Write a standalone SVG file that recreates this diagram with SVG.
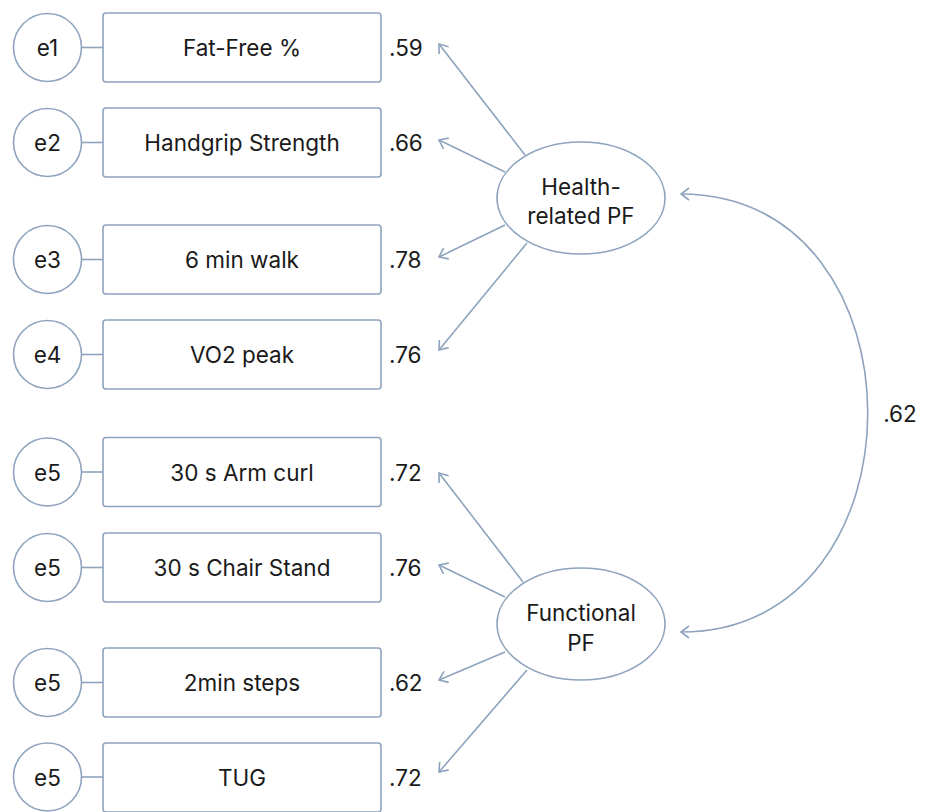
<svg xmlns="http://www.w3.org/2000/svg" width="933" height="812" viewBox="0 0 933 812">
<style>
.s{fill:#fff;stroke:#8ea3bd;stroke-width:1.6}
.c{fill:none;stroke:#8ea3bd;stroke-width:1.6}
text{font-family:Inter,"Noto Sans","Liberation Sans",sans-serif;font-size:22.5px;fill:#1a1a1a;dominant-baseline:central}
.m{text-anchor:middle}
</style>
<defs>
<marker id="ah" viewBox="-12 -8 14 16" markerWidth="14" markerHeight="16" refX="0" refY="0" orient="auto-start-reverse" markerUnits="userSpaceOnUse">
<path d="M-8,-6 L0,0 L-8,6" fill="none" stroke="#8ea3bd" stroke-width="1.6"/>
</marker>
</defs>
<rect width="933" height="812" fill="#fff"/>
<g id="connectors">
<line class="c" x1="82" y1="47.5" x2="103" y2="47.5"/>
<line class="c" x1="82" y1="142.5" x2="103" y2="142.5"/>
<line class="c" x1="82" y1="259.5" x2="103" y2="259.5"/>
<line class="c" x1="82" y1="354.5" x2="103" y2="354.5"/>
<line class="c" x1="82" y1="472" x2="103" y2="472"/>
<line class="c" x1="82" y1="567.5" x2="103" y2="567.5"/>
<line class="c" x1="82" y1="682.5" x2="103" y2="682.5"/>
<line class="c" x1="82" y1="777" x2="103" y2="777"/>
<line class="c" x1="525" y1="155" x2="439" y2="44" marker-end="url(#ah)"/>
<line class="c" x1="505" y1="172" x2="439" y2="140" marker-end="url(#ah)"/>
<line class="c" x1="505" y1="225" x2="439" y2="257" marker-end="url(#ah)"/>
<line class="c" x1="527" y1="243" x2="439" y2="350" marker-end="url(#ah)"/>
<line class="c" x1="523" y1="582" x2="439" y2="473" marker-end="url(#ah)"/>
<line class="c" x1="505" y1="597" x2="439" y2="565" marker-end="url(#ah)"/>
<line class="c" x1="505" y1="652" x2="439" y2="680" marker-end="url(#ah)"/>
<line class="c" x1="527" y1="670" x2="439" y2="772" marker-end="url(#ah)"/>
<path class="c" d="M681,194 C930,194 930,632 681,632" marker-start="url(#ah)" marker-end="url(#ah)"/>
<text x="900" y="413" class="m">.62</text>
</g>
<g id="e1"><circle class="s" cx="47.5" cy="47.5" r="34"/><text x="47.5" y="47.5" class="m">e1</text></g>
<g id="e2"><circle class="s" cx="47.5" cy="142.5" r="34"/><text x="47.5" y="142.5" class="m">e2</text></g>
<g id="e3"><circle class="s" cx="47.5" cy="259.5" r="34"/><text x="47.5" y="259.5" class="m">e3</text></g>
<g id="e4"><circle class="s" cx="47.5" cy="354.5" r="34"/><text x="47.5" y="354.5" class="m">e4</text></g>
<g id="e5a"><circle class="s" cx="47.5" cy="472" r="34"/><text x="47.5" y="472" class="m">e5</text></g>
<g id="e5b"><circle class="s" cx="47.5" cy="567.5" r="34"/><text x="47.5" y="567.5" class="m">e5</text></g>
<g id="e5c"><circle class="s" cx="47.5" cy="682.5" r="34"/><text x="47.5" y="682.5" class="m">e5</text></g>
<g id="e5d"><circle class="s" cx="47.5" cy="777" r="34"/><text x="47.5" y="777" class="m">e5</text></g>
<g id="fatfree"><rect class="s" x="103" y="13" width="278" height="69" rx="3"/><text x="242" y="47.5" class="m">Fat-Free %</text><text x="389" y="47.5">.59</text></g>
<g id="handgrip"><rect class="s" x="103" y="108" width="278" height="69" rx="3"/><text x="242" y="142.5" class="m">Handgrip Strength</text><text x="389" y="142.5">.66</text></g>
<g id="walk"><rect class="s" x="103" y="225" width="278" height="69" rx="3"/><text x="242" y="259.5" class="m">6 min walk</text><text x="389" y="259.5">.78</text></g>
<g id="vo2"><rect class="s" x="103" y="320" width="278" height="69" rx="3"/><text x="242" y="354.5" class="m">VO2 peak</text><text x="389" y="354.5">.76</text></g>
<g id="armcurl"><rect class="s" x="103" y="437.5" width="278" height="69" rx="3"/><text x="242" y="472" class="m">30 s Arm curl</text><text x="389" y="472">.72</text></g>
<g id="chair"><rect class="s" x="103" y="533" width="278" height="69" rx="3"/><text x="242" y="567.5" class="m">30 s Chair Stand</text><text x="389" y="567.5">.76</text></g>
<g id="steps"><rect class="s" x="103" y="648" width="278" height="69" rx="3"/><text x="242" y="682.5" class="m">2min steps</text><text x="389" y="682.5">.62</text></g>
<g id="tug"><rect class="s" x="103" y="743" width="278" height="69" rx="3"/><text x="242" y="777" class="m">TUG</text><text x="389" y="777">.72</text></g>
<g id="health"><ellipse class="s" cx="581" cy="198" rx="84" ry="56"/><text x="581" y="186" class="m">Health-</text><text x="581" y="215" class="m">related PF</text></g>
<g id="functional"><ellipse class="s" cx="581" cy="624" rx="84" ry="56"/><text x="581" y="612" class="m">Functional</text><text x="581" y="642" class="m">PF</text></g>
</svg>
